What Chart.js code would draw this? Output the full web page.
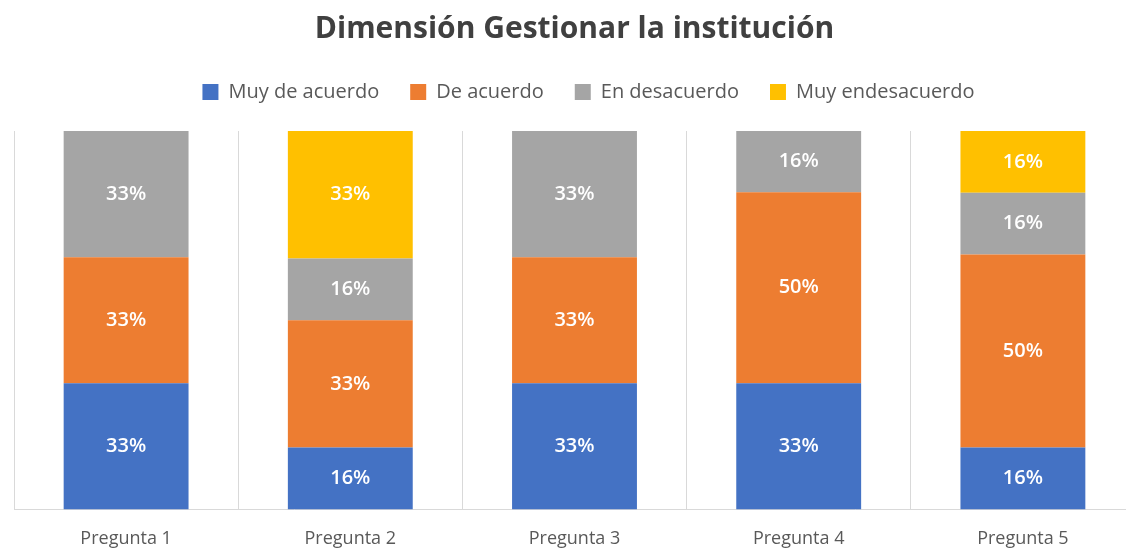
<!DOCTYPE html>
<html><head><meta charset="utf-8">
<script src="https://cdn.jsdelivr.net/npm/chart.js@4.4.0/dist/chart.umd.min.js"></script>
<style>
html,body{margin:0;padding:0;background:#fff;overflow:hidden;width:1126px;height:550px}
#wrap{width:1150px;height:569px;position:relative}
</style></head><body>
<div id="wrap"><canvas id="c" width="1150" height="569"></canvas></div>
<script>
const categories = ['Pregunta 1','Pregunta 2','Pregunta 3','Pregunta 4','Pregunta 5'];
const seriesNames = ['Muy de acuerdo','De acuerdo','En desacuerdo','Muy endesacuerdo'];
const muyDeAcuerdo    = [33, 16, 33, 33, 16];
const deAcuerdo       = [33, 33, 33, 50, 50];
const enDesacuerdo    = [33, 16, 33, 16, 16];
const muyEnDesacuerdo = [0, 33, 0, 0, 16];
const colors = ['#4472C4','#ED7D31','#A5A5A5','#FFC000'];

const series = [muyDeAcuerdo, deAcuerdo, enDesacuerdo, muyEnDesacuerdo];
const totals = categories.map((_, i) => series.reduce((s, arr) => s + arr[i], 0));

const datasets = series.map((arr, k) => ({
  label: seriesNames[k],
  data: arr.map((v, i) => v / totals[i] * 100),
  rawValues: arr,
  backgroundColor: colors[k],
  borderWidth: 0,
  barPercentage: 0.557,
  categoryPercentage: 1.0
}));

const labelPlugin = {
  id: 'segLabels',
  afterDatasetsDraw(chart) {
    const ctx = chart.ctx;
    ctx.save();
    ctx.fillStyle = '#FFFFFF';
    ctx.font = '600 20px "Open Sans"';
    ctx.textAlign = 'center';
    ctx.textBaseline = 'middle';
    chart.data.datasets.forEach((ds, di) => {
      const meta = chart.getDatasetMeta(di);
      meta.data.forEach((el, i) => {
        const raw = ds.rawValues[i];
        if (!raw) return;
        const cy = (el.y + el.base) / 2;
        ctx.fillText(raw + '%', el.x, cy);
      });
    });
    ctx.restore();
  }
};

const legendTweak = {
  id: 'legendTweak',
  beforeInit(chart) {
    const lg = chart.legend;
    if (lg && !lg._wrapped) {
      const fit = lg.fit;
      lg.fit = function () { fit.call(this); this.height += 19; };
      lg._wrapped = true;
    }
  },
  afterLayout(chart) {
    if (chart.legend) { chart.legend.left += 14; chart.legend.right += 14; }
  }
};

new Chart(document.getElementById('c'), {
  type: 'bar',
  data: { labels: categories, datasets },
  plugins: [labelPlugin, legendTweak],
  options: {
    responsive: false,
    devicePixelRatio: 1,
    animation: false,
    layout: { padding: { left: 14, right: 15, top: 0, bottom: 0 } },
    plugins: {
      title: {
        display: true,
        text: 'Dimensión Gestionar la institución',
        color: '#404040',
        font: { family: '"Open Sans"', size: 30, weight: 'bold' },
        padding: { top: 11, bottom: 4 }
      },
      legend: {
        display: true,
        position: 'top',
        labels: {
          color: '#595959',
          font: { family: '"Open Sans"', size: 20 },
          boxWidth: 16, boxHeight: 16,
          padding: 31
        }
      },
      tooltip: { enabled: false }
    },
    scales: {
      x: {
        stacked: true,
        grid: { display: true, color: '#D9D9D9', lineWidth: 1, drawTicks: false, offset: true },
        border: { display: true, color: '#D9D9D9' },
        ticks: { color: '#595959', font: { family: '"Open Sans"', size: 18 }, padding: 19 }
      },
      y: {
        stacked: true,
        display: false,
        min: 0, max: 100
      }
    }
  }
});
</script>
</body></html>
